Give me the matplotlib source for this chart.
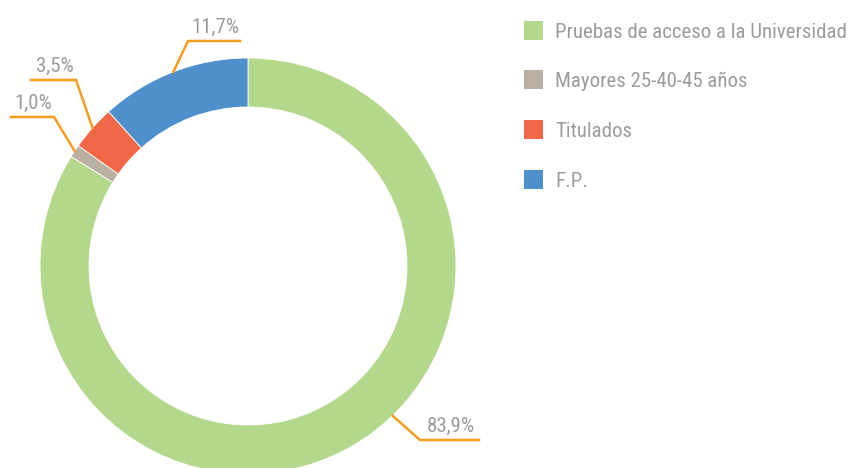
import matplotlib
matplotlib.use("Agg")
import matplotlib.pyplot as plt
import numpy as np

categories = ["Pruebas de acceso a la Universidad", "Mayores 25-40-45 años", "Titulados", "F.P."]
values = [83.9, 1.0, 3.5, 11.7]
value_labels = ["83,9%", "1,0%", "3,5%", "11,7%"]
colors = ["#B3D88C", "#B9B0A2", "#F26747", "#4F8FCC"]

plt.rcParams["font.family"] = ["Roboto Condensed", "DejaVu Sans"]

W, H = 851, 468
fig = plt.figure(figsize=(W / 100, H / 100), dpi=100)
ax = fig.add_axes([0, 0, 1, 1])

cx, cy = 248, H - 266
R, width = 208, 49
wedges, _ = ax.pie(values, colors=colors, startangle=90, counterclock=False,
                   radius=R, center=(cx, cy), frame=True,
                   wedgeprops=dict(width=width, edgecolor="white", linewidth=0.6))
ax.set_xlim(0, W)
ax.set_ylim(0, H)
ax.set_aspect("equal")
ax.axis("off")

text_color = "#9C9C9C"
leader_color = "#F59D1D"
fs = 15
# layout: anchor angle, elbow point, horizontal end (pixels, y-down)
layout = [
    dict(angle=-46, elbow=(420, 440), end=(479, 440)),
    dict(angle=None, elbow=(54, 117), end=(11, 117)),
    dict(angle=None, elbow=(76, 80), end=(31, 80)),
    dict(angle=None, elbow=(188, 41), end=(240, 41)),
]
for w, lab, lay in zip(wedges, value_labels, layout):
    ang = lay["angle"] if lay["angle"] is not None else (w.theta1 + w.theta2) / 2
    sx = cx + R * np.cos(np.radians(ang))
    sy = cy + R * np.sin(np.radians(ang))
    ex, ey = lay["elbow"]
    hx, hy = lay["end"]
    ax.plot([sx, ex, hx], [sy, H - ey, H - hy], color=leader_color, lw=1.8,
            solid_joinstyle="miter", clip_on=False)
    tx = (ex + hx) / 2
    ax.text(tx + 1, H - ey + 8, lab, ha="center", va="baseline", fontsize=fs,
            color=text_color)

# legend
for i, (cat, col) in enumerate(zip(categories, colors)):
    yc = H - (30 + i * 49.7)
    ax.add_patch(plt.Rectangle((524, yc - 9.5), 19, 19, color=col, lw=0))
    ax.text(555, yc, cat, ha="left", va="center_baseline", fontsize=fs, color=text_color)

fig.savefig("out.png", dpi=100)
